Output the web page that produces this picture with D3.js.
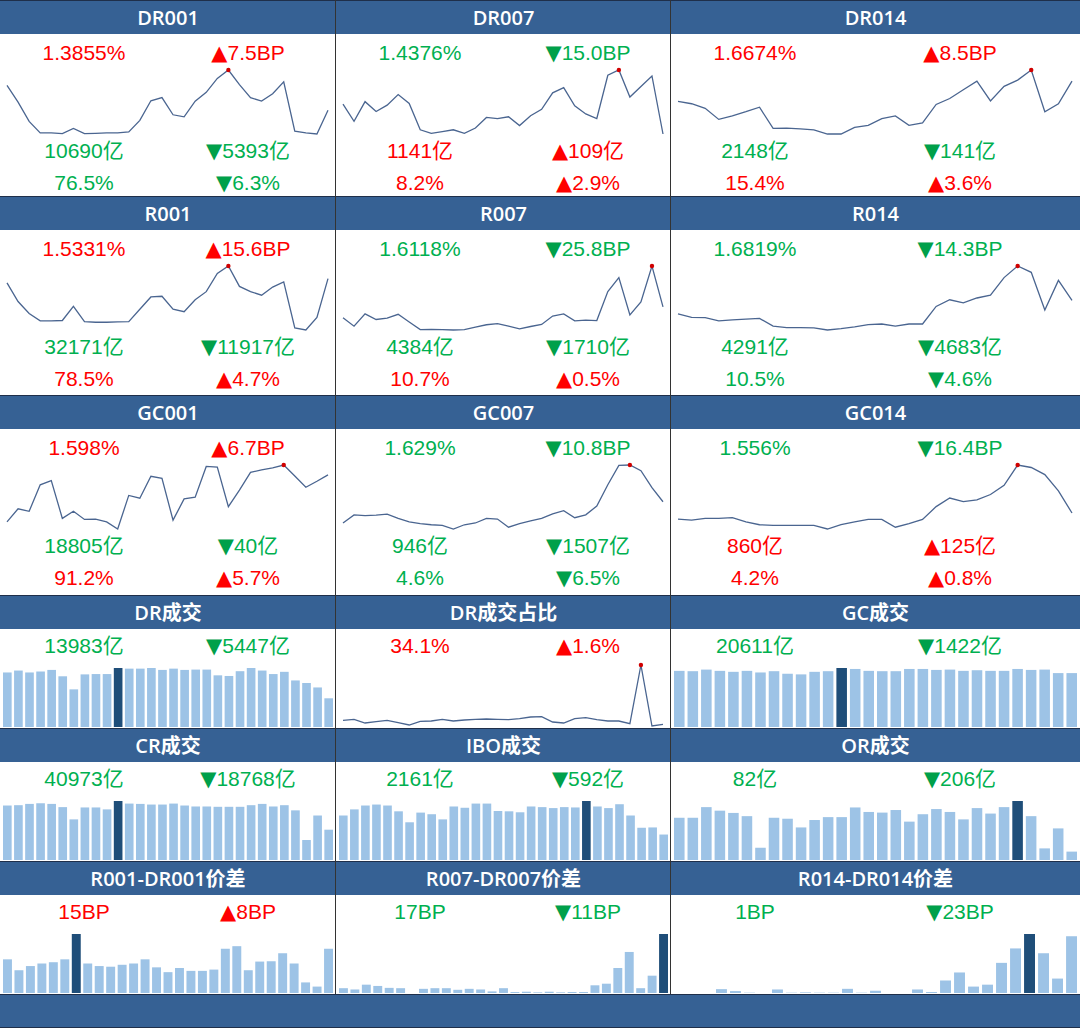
<!DOCTYPE html>
<html><head><meta charset="utf-8">
<script src="https://d3js.org/d3.v7.min.js"></script>
<style>body{margin:0;background:#fff}svg{display:block}</style>
</head><body>
<script>
const titles = ["DR001","DR007","DR014","R001","R007","R014","GC001","GC007","GC014",
  "DR成交","DR成交占比","GC成交","CR成交","IBO成交","OR成交","R001-DR001价差","R007-DR007价差","R014-DR014价差"];
const R="#FF0000", G="#00B050";
const texts = [
 [["1.3855%",R],["▲7.5BP",R],["10690亿",G],["▼5393亿",G],["76.5%",G],["▼6.3%",G]],
 [["1.4376%",G],["▼15.0BP",G],["1141亿",R],["▲109亿",R],["8.2%",R],["▲2.9%",R]],
 [["1.6674%",R],["▲8.5BP",R],["2148亿",G],["▼141亿",G],["15.4%",R],["▲3.6%",R]],
 [["1.5331%",R],["▲15.6BP",R],["32171亿",G],["▼11917亿",G],["78.5%",R],["▲4.7%",R]],
 [["1.6118%",G],["▼25.8BP",G],["4384亿",G],["▼1710亿",G],["10.7%",R],["▲0.5%",R]],
 [["1.6819%",G],["▼14.3BP",G],["4291亿",G],["▼4683亿",G],["10.5%",G],["▼4.6%",G]],
 [["1.598%",R],["▲6.7BP",R],["18805亿",G],["▼40亿",G],["91.2%",R],["▲5.7%",R]],
 [["1.629%",G],["▼10.8BP",G],["946亿",G],["▼1507亿",G],["4.6%",G],["▼6.5%",G]],
 [["1.556%",G],["▼16.4BP",G],["860亿",R],["▲125亿",R],["4.2%",R],["▲0.8%",R]],
 [["13983亿",G],["▼5447亿",G]],
 [["34.1%",R],["▲1.6%",R]],
 [["20611亿",G],["▼1422亿",G]],
 [["40973亿",G],["▼18768亿",G]],
 [["2161亿",G],["▼592亿",G]],
 [["82亿",G],["▼206亿",G]],
 [["15BP",R],["▲8BP",R]],
 [["17BP",G],["▼11BP",G]],
 [["1BP",G],["▼23BP",G]]
];
const DR001 = [148,100,45,12,12,10,25,10,11,12,12,15,48,104,113,64,58,103,128,168,192,150,113,103,124,158,17,12,9,77];
const DR007 = [93,44,100,72,90,120,95,20,10,15,20,10,25,55,52,57,32,60,78,125,140,88,65,52,175,190,113,143,173,8];
const DR014 = [102,95,82,50,60,72,85,24,25,23,20,8,8,27,33,52,60,33,40,93,110,135,160,103,145,163,192,72,95,160];
const R001 = [245,192,158,137,137,138,178,135,133,133,134,135,170,205,207,170,163,197,220,272,293,235,220,210,233,248,117,111,147,257];
const R007 = [147,123,158,142,146,157,135,113,114,113,112,113,120,127,130,123,115,122,128,152,158,138,140,139,222,262,155,192,295,178];
const R014 = [157,147,146,137,140,142,144,122,118,118,117,111,115,120,126,128,122,128,128,178,197,188,202,210,260,293,275,168,252,195];
const GC001 = [135,172,165,240,252,145,165,142,143,135,115,210,202,264,258,140,200,205,292,290,178,225,275,282,288,296,265,233,250,268];
const GC007 = [132,155,153,154,157,145,135,130,127,125,115,127,132,145,143,120,130,138,145,158,167,147,155,180,240,295,296,280,232,192];
const GC014 = [143,140,145,145,147,135,127,125,125,125,125,115,127,135,142,142,120,130,142,178,202,192,197,212,238,295,288,268,222,160];
const DRshare = [112,115,104,108,112,105,98,109,110,115,110,113,115,116,115,114,117,122,123,107,104,117,120,114,110,110,102,278,95,100];
const DRvol = [171,177,171,174,179,159,118,165,166,166,185,183,183,185,179,183,179,180,180,162,160,175,185,177,166,173,146,138,124,90];
const GCvol = [176,175,180,176,173,176,171,175,167,165,173,175,185,182,176,175,175,182,182,179,180,176,178,176,176,182,179,180,169,169];
const CRvol = [169,170,174,176,174,164,126,163,163,157,183,175,174,172,172,175,169,166,166,165,165,165,170,174,166,170,154,62,138,94];
const IBOvol = [138,157,169,172,169,151,117,147,142,126,166,162,175,175,152,151,148,166,164,161,164,163,183,166,161,173,138,100,101,79];
const ORvol = [131,131,164,153,146,136,38,131,128,101,124,133,133,163,149,147,155,119,142,158,149,126,161,144,164,183,136,36,98,26];
const sp1 = [105,71,84,92,96,105,184,92,84,82,88,92,105,80,65,78,69,69,73,138,146,71,98,99,124,92,33,20,138];
const sp7 = [15,11,26,22,16,15,0,13,15,15,10,13,11,5,15,3,4,2,4,2,3,3,24,29,78,128,15,54,184];
const sp14 = [0,0,0,12,6,1,0,11,1,2,1,1,13,1,7,0,0,11,3,39,64,20,26,94,139,184,124,45,177];
const series = [DR001,DR007,DR014,R001,R007,R014,GC001,GC007,GC014,DRvol,DRshare,GCvol,CRvol,IBOvol,ORvol,sp1,sp7,sp14];
const kinds = ["l","l","l","l","l","l","l","l","l","b","l","b","b","b","b","b","b","b"];

const W=1080,H=1028;
const colX=[0,336,671,1080];
const rowY=[0,196,395,595,728,861,994];
const svg=d3.select("body").append("svg").attr("width",W).attr("height",H);
const font="'Liberation Sans',Arial,'Noto Sans CJK SC',sans-serif";
const tfont="'Open Sans','Noto Sans CJK SC',sans-serif";
const HEAD="#366194";
const txL=[84,84,84], txR=[248,252,289];

titles.forEach((t,i)=>{
  const r=Math.floor(i/3), c=i%3;
  const x0=colX[c], x1=colX[c+1], y0=rowY[r], y1=rowY[r+1];
  const w=x1-x0;
  svg.append("rect").attr("x",x0).attr("y",y0+1).attr("width",w).attr("height",33).attr("fill",HEAD);
  svg.append("text").attr("x",x0+w/2).attr("y",y0+25).attr("text-anchor","middle")
    .attr("fill","#fff").attr("font-family",tfont).attr("font-size",20).attr("font-weight",600).text(t);
  const tx=texts[i];
  const big = r<3;
  const ys = big?[y0+60,y0+158,y0+190]:[y0+58];
  tx.forEach((d,k)=>{
    const row=Math.floor(k/2), side=k%2;
    const el=svg.append("text").attr("x",x0+(side?txR[c]:txL[c])).attr("y",ys[row]).attr("text-anchor","middle")
      .attr("fill",d[1]).attr("font-family",font).attr("font-size",21);
    const s=d[0];
    if(s[0]==="▲"||s[0]==="▼"){
      el.append("tspan").attr("font-family","'DejaVu Sans'").attr("font-size",21).attr("fill",s[0]==="▲"?R:"#00A04A").text(s[0]);
      el.append("tspan").text(s.slice(1));
    } else el.text(s);
  });
  const data=series[i];
  const n=data.length;
  if(kinds[i]==="l"){
    const x=d3.scaleLinear().domain([0,n-1]).range([x0+7,x1-8]);
    const top=y0+70, bot=y0+(big?134:131);
    const y=d3.scaleLinear().domain(d3.extent(data)).range([bot,top]);
    svg.append("path").attr("d",d3.line().x((d,j)=>x(j)).y(d=>y(d))(data))
      .attr("fill","none").attr("stroke","#4a6590").attr("stroke-width",1.3);
    const mi=d3.maxIndex(data);
    svg.append("circle").attr("cx",x(mi)).attr("cy",y(data[mi])).attr("r",2.2).attr("fill","#d00000");
  } else {
    const x=d3.scaleBand().domain(d3.range(n)).range([x0+3,x1-3]).paddingInner(0.22);
    const bot=y1-1, top=y0+73;
    const y=d3.scaleLinear().domain([0,d3.max(data)]).range([bot,top]);
    const mi=d3.maxIndex(data);
    svg.append("g").selectAll("rect").data(data).join("rect")
      .attr("x",(d,j)=>x(j)).attr("width",x.bandwidth()).attr("y",d=>y(d)).attr("height",d=>bot-y(d))
      .attr("fill",(d,j)=>j===mi?"#1F4E79":"#9DC3E6");
  }
});
svg.append("rect").attr("x",0).attr("y",995).attr("width",W).attr("height",32).attr("fill",HEAD);
rowY.forEach(y=>svg.append("line").attr("x1",0).attr("x2",W).attr("y1",y+0.5).attr("y2",y+0.5).attr("stroke","#1f2f4a").attr("stroke-width",1));
svg.append("line").attr("x1",0).attr("x2",W).attr("y1",1027.5).attr("y2",1027.5).attr("stroke","#1f2f4a");
[336,671].forEach(x=>svg.append("line").attr("x1",x-0.5).attr("x2",x-0.5).attr("y1",0).attr("y2",994).attr("stroke","#333").attr("stroke-width",1));
</script>
</body></html>
